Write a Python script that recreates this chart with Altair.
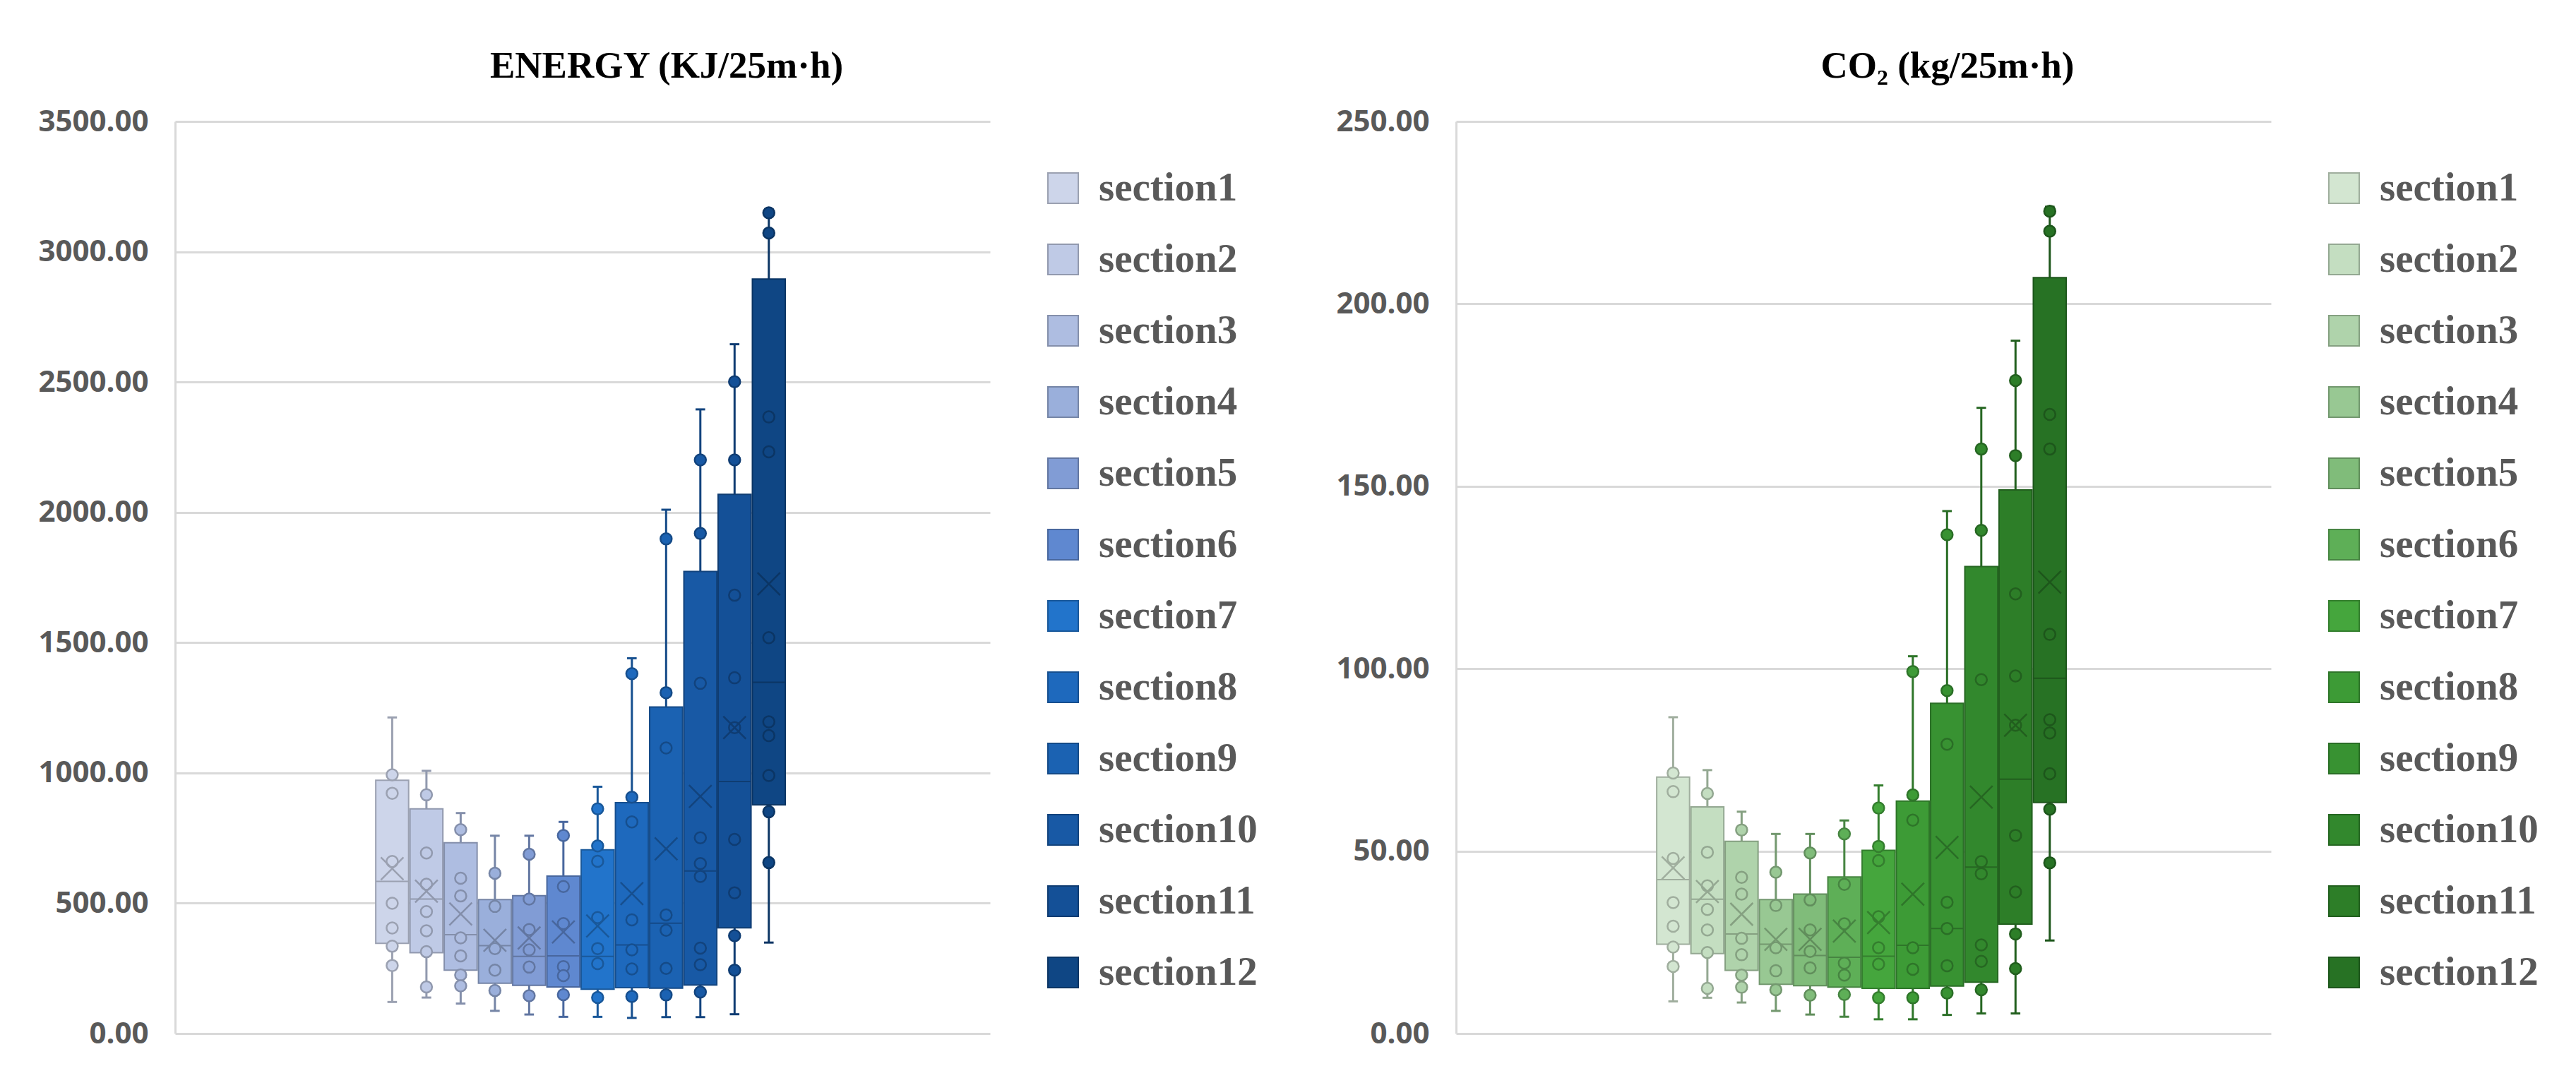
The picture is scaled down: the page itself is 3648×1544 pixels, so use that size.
import altair as alt
import pandas as pd

sections = ["section1", "section2", "section3", "section4", "section5", "section6",
            "section7", "section8", "section9", "section10", "section11", "section12"]

# ENERGY (KJ/25m·h)
e_lo = [121, 138, 115, 87, 73, 64, 64, 60, 63, 63, 74, 349]
e_q1 = [346, 310, 243, 193, 185, 179, 170, 176, 174, 186, 406, 878]
e_med = [584, 516, 379, 337, 296, 298, 296, 340, 423, 624, 967, 1348]
e_q3 = [972, 862, 732, 514, 529, 604, 705, 886, 1253, 1773, 2069, 2895]
e_hi = [1213, 1008, 846, 759, 759, 812, 947, 1440, 2010, 2395, 2645, 3163]
e_mean = [633, 546, 459, 358, 367, 390, 413, 537, 709, 910, 1174, 1725]
e_pts = [
    [993, 922, 660, 500, 405, 335, 261],
    [916, 693, 573, 468, 394, 314, 179],
    [782, 596, 528, 367, 298, 225, 183],
    [615, 488, 326, 243, 165],
    [688, 516, 399, 321, 255, 145],
    [760, 564, 422, 257, 222, 149],
    [862, 720, 661, 445, 326, 268, 138],
    [1381, 907, 812, 436, 321, 248, 142],
    [1898, 1308, 1096, 455, 396, 250, 148],
    [2201, 1919, 1344, 751, 652, 603, 328, 264, 159],
    [2501, 2201, 1682, 1365, 1174, 745, 540, 375, 243],
    [3149, 3072, 2366, 2232, 1519, 1196, 1143, 990, 851, 656],
]

# CO2 (kg/25m·h)
c_lo = [8.8, 9.8, 8.5, 6.2, 5.2, 4.6, 3.9, 3.9, 5.1, 5.5, 5.5, 25.5]
c_q1 = [24.5, 21.9, 17.3, 13.5, 13.1, 12.7, 12.4, 12.4, 13.0, 14.1, 30.0, 63.3]
c_med = [42.2, 36.8, 27.3, 24.5, 21.4, 20.9, 21.2, 24.2, 28.8, 45.6, 69.7, 97.4]
c_q3 = [70.3, 62.1, 52.7, 36.7, 38.2, 42.9, 50.2, 63.7, 90.5, 128.0, 149.0, 207.2]
c_hi = [86.7, 72.2, 60.8, 54.7, 54.7, 58.4, 68.0, 103.4, 143.2, 171.5, 189.9, 226.6]
c_mean = [45.4, 38.9, 32.7, 25.8, 25.8, 28.1, 30.4, 38.2, 51.0, 64.8, 84.5, 123.7]
c_pts = [
    [71.4, 66.3, 48.0, 35.9, 29.4, 23.7, 18.4],
    [65.8, 49.7, 40.5, 34.0, 28.4, 22.2, 12.4],
    [55.8, 42.8, 38.2, 26.1, 21.6, 16.0, 12.7],
    [44.2, 35.1, 23.5, 17.2, 12.0],
    [49.5, 36.6, 28.4, 22.5, 18.0, 10.5],
    [54.7, 40.9, 30.1, 19.3, 16.0, 10.7],
    [61.8, 51.3, 47.4, 32.0, 23.5, 19.0, 9.8],
    [99.2, 65.4, 58.5, 23.5, 17.6, 9.8],
    [136.7, 94.0, 79.3, 36.0, 28.8, 18.6, 11.1],
    [160.2, 137.9, 97.0, 47.1, 43.8, 24.3, 19.8, 12.0],
    [179.0, 158.4, 120.5, 98.0, 84.5, 54.3, 38.8, 27.3, 17.8],
    [225.4, 219.9, 169.7, 160.2, 109.4, 86.0, 82.4, 71.2, 61.5, 46.8],
]

blue_fill = ["#CDD5EA", "#BFCAE6", "#AEBDE1", "#9AAFDB", "#819CD5", "#5F88D0",
             "#2274CB", "#1E69BD", "#1B62B2", "#1859A5", "#145097", "#0F4684"]
green_fill = ["#D3E6D1", "#C4DEC1", "#AFD3AB", "#98C893", "#80BC7A", "#5EAF57",
              "#45A63D", "#3D9B36", "#389232", "#32882D", "#2D7E28", "#277224"]


def darker(hexc, f=0.76):
    h = hexc.lstrip("#")
    r, g, b = (int(h[i:i + 2], 16) for i in (0, 2, 4))
    return "#%02X%02X%02X" % (int(r * f), int(g * f), int(b * f))


PW, PH = 1154, 1292
XDOM = [-6.34, 17.46]
AXIS_FONT = "Open Sans"
SERIF = "Liberation Serif"
X_PATH = "M-1,-1L1,1M-1,1L1,-1"


def make_chart(lo, q1, med, q3, hi, mean, pts, fills, title, ymax, ystep):
    strokes = [darker(c) for c in fills]
    summ = pd.DataFrame({"section": sections, "idx": list(range(len(sections))),
                         "lo": lo, "q1": q1, "med": med, "q3": q3, "hi": hi, "mean": mean})
    rows = []
    for i, (s, vals) in enumerate(zip(sections, pts)):
        for v in vals:
            rows.append({"section": s, "idx": i, "v": v})
    pdf = pd.DataFrame(rows)

    xs = alt.Scale(domain=XDOM, nice=False, zero=False)
    ys = alt.Scale(domain=[0, ymax], nice=False, zero=True)
    legend = alt.Legend(title=None, orient="none", legendX=PW + 75, legendY=66,
                        symbolType="square", symbolSize=1849, symbolStrokeWidth=2,
                        symbolOpacity=1,
                        labelFont=SERIF, labelFontSize=57, labelFontWeight="bold",
                        labelColor="#595959", rowPadding=43, labelOffset=22,
                        labelLimit=0)
    fill_enc = alt.Fill("section:N", scale=alt.Scale(domain=sections, range=fills), legend=legend)
    stroke_enc = alt.Stroke("section:N", scale=alt.Scale(domain=sections, range=strokes), legend=legend)
    yaxis = alt.Axis(values=list(range(0, ymax + 1, ystep)), format=".2f", title=None,
                     labelFont=AXIS_FONT, labelFontSize=42, labelFontWeight="bold",
                     labelColor="#595959", labelPadding=38, ticks=False,
                     domain=True, domainColor="#D9D9D9", domainWidth=3,
                     grid=True, gridColor="#D9D9D9", gridWidth=3)

    def X(f):
        return alt.X(f, scale=xs, axis=None)

    def Y(f):
        return alt.Y(f, scale=ys, axis=yaxis)

    base = alt.Chart(summ).transform_calculate(
        l="datum.idx - 0.48", r="datum.idx + 0.48",
        cl="datum.idx - 0.14", cr="datum.idx + 0.14")

    whisker = base.mark_rule(strokeWidth=3).encode(
        x=X("idx:Q"), y=Y("lo:Q"), y2="hi:Q", stroke=stroke_enc)
    cap_lo = base.mark_rule(strokeWidth=3).encode(
        x=X("cl:Q"), x2="cr:Q", y=Y("lo:Q"), stroke=stroke_enc)
    cap_hi = base.mark_rule(strokeWidth=3).encode(
        x=X("cl:Q"), x2="cr:Q", y=Y("hi:Q"), stroke=stroke_enc)
    box = base.mark_rect(strokeWidth=2).encode(
        x=X("l:Q"), x2="r:Q", y=Y("q1:Q"), y2="q3:Q",
        fill=fill_enc, stroke=stroke_enc)
    median = base.mark_rule(strokeWidth=2).encode(
        x=X("l:Q"), x2="r:Q", y=Y("med:Q"), stroke=stroke_enc)
    points = alt.Chart(pdf).mark_point(shape="circle", filled=True, size=256,
                                        strokeWidth=2.5, opacity=1).encode(
        x=X("idx:Q"), y=Y("v:Q"), fill=fill_enc, stroke=stroke_enc)
    meanx = base.mark_point(shape=X_PATH, filled=False, size=1024,
                            strokeWidth=2.5, opacity=1).encode(
        x=X("idx:Q"), y=Y("mean:Q"), stroke=stroke_enc)

    return alt.layer(whisker, cap_lo, cap_hi, box, median, points, meanx).properties(
        width=PW, height=PH,
        title=alt.TitleParams(title, font=SERIF, fontSize=53, fontWeight="bold",
                              color="#000000", anchor="middle", dx=119, offset=30))


left = make_chart(e_lo, e_q1, e_med, e_q3, e_hi, e_mean, e_pts, blue_fill,
                  "ENERGY (KJ/25m·h)", 3500, 500)
right = make_chart(c_lo, c_q1, c_med, c_q3, c_hi, c_mean, c_pts, green_fill,
                   "CO\u2082 (kg/25m·h)", 250, 50)

chart = alt.hconcat(left, right, spacing=110).resolve_scale(
    x="independent", y="independent", fill="independent", stroke="independent"
).resolve_legend(fill="independent", stroke="independent").properties(
    padding={"left": 45, "top": 60, "right": 10, "bottom": 10},
    background="white"
).configure_view(stroke=None)

chart.save("out.html", embed_options={"renderer": "svg", "actions": False})
